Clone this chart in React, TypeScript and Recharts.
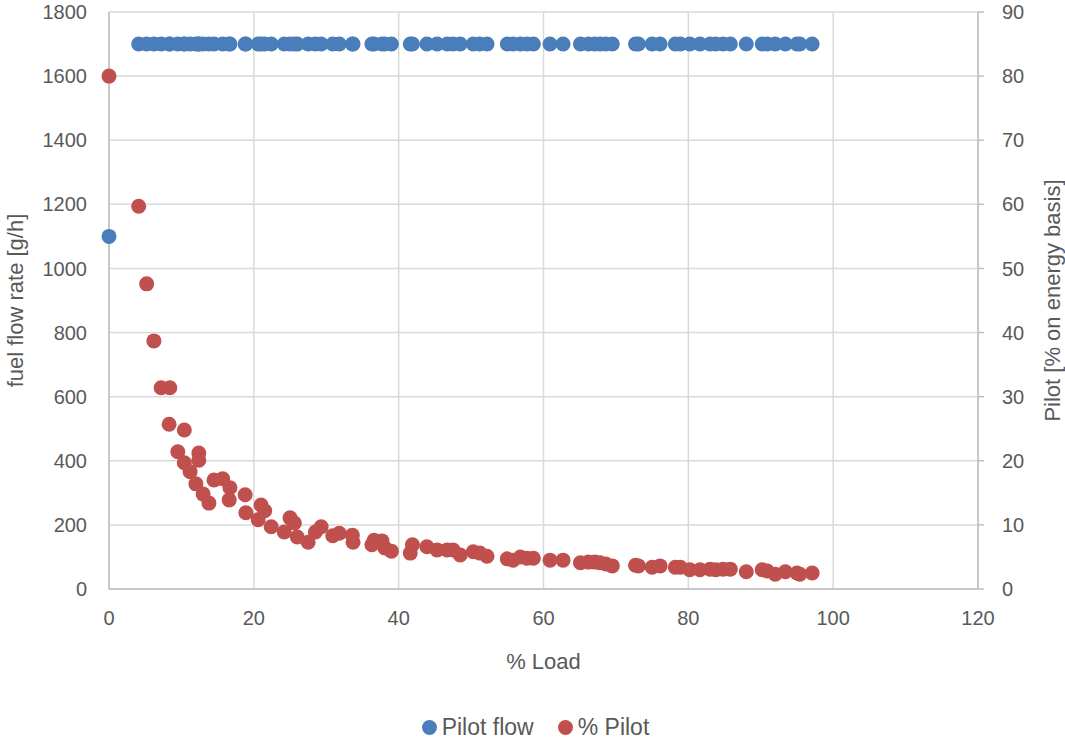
import React from "react";
import { ScatterChart, Scatter, XAxis, YAxis, CartesianGrid, Legend } from "recharts";

// % Load for every sample (shared by both series)
const loadPct = [
  0, 4.1, 5.2, 6.2, 7.2, 8.3, 8.4, 9.5, 10.4, 10.4, 11.2, 12.0, 12.4, 12.4, 13.0, 13.8, 14.5,
  15.7, 16.6, 16.7, 18.8, 18.9, 20.6, 21.0, 21.5, 22.4, 24.2, 25.0, 25.6, 26.0, 27.5, 28.5,
  29.3, 30.9, 31.8, 33.6, 33.7, 36.3, 36.6, 37.7, 38.1, 39.0, 41.6, 41.9, 43.9, 45.3, 46.7,
  47.5, 48.5, 50.3, 51.2, 52.2, 55.0, 55.8, 56.8, 57.7, 58.6, 60.9, 62.7, 65.1, 66.2, 67.1,
  67.8, 68.6, 69.5, 72.7, 73.1, 75.0, 76.1, 78.2, 78.9, 80.2, 81.6, 83.0, 83.8, 84.8, 85.8,
  88.0, 90.2, 90.9, 92.0, 93.4, 95.0, 95.4, 97.1,
];

// pilot fuel flow [g/h]
const pilotFlow = [
  1100, 1700, 1700, 1700, 1700, 1700, 1700, 1700, 1700, 1700, 1700, 1700, 1700, 1700, 1700, 1700, 1700,
  1700, 1700, 1700, 1700, 1700, 1700, 1700, 1700, 1700, 1700, 1700, 1700, 1700, 1700, 1700,
  1700, 1700, 1700, 1700, 1700, 1700, 1700, 1700, 1700, 1700, 1700, 1700, 1700, 1700, 1700,
  1700, 1700, 1700, 1700, 1700, 1700, 1700, 1700, 1700, 1700, 1700, 1700, 1700, 1700, 1700,
  1700, 1700, 1700, 1700, 1700, 1700, 1700, 1700, 1700, 1700, 1700, 1700, 1700, 1700, 1700,
  1700, 1700, 1700, 1700, 1700, 1700, 1700, 1700,
];

// pilot share [% on energy basis]
const pilotShare = [
  80, 59.7, 47.6, 38.7, 31.4, 25.7, 31.4, 21.4, 24.8, 19.7, 18.3, 16.4, 21.2, 20.1, 14.8, 13.4, 17.0,
  17.2, 13.9, 15.8, 14.7, 11.9, 10.8, 13.1, 12.2, 9.7, 8.9, 11.1, 10.3, 8.1, 7.3, 8.9,
  9.7, 8.3, 8.7, 8.4, 7.3, 6.9, 7.6, 7.5, 6.4, 5.9, 5.6, 6.9, 6.6, 6.1, 6.1,
  6.1, 5.3, 5.8, 5.6, 5.1, 4.7, 4.5, 5.0, 4.8, 4.8, 4.5, 4.5, 4.1, 4.2, 4.2,
  4.1, 3.9, 3.6, 3.7, 3.6, 3.4, 3.6, 3.4, 3.4, 3.0, 3.0, 3.1, 3.0, 3.1, 3.1,
  2.7, 3.0, 2.8, 2.3, 2.7, 2.5, 2.3, 2.5,
];

const xTicks = [0, 20, 40, 60, 80, 100, 120];
const leftTicks = [0, 200, 400, 600, 800, 1000, 1200, 1400, 1600, 1800];
const rightTicks = [0, 10, 20, 30, 40, 50, 60, 70, 80, 90];

const BLUE = "#4a7ebb";
const RED = "#c0504d";
const TEXT = "#595959";
const FONT = "'Liberation Sans', Arial, sans-serif";

const flowData = loadPct.map((x, i) => ({ load: x, flow: pilotFlow[i] }));
const shareData = loadPct.map((x, i) => ({ load: x, share: pilotShare[i] }));

const dot = (color: string) => (props: any) =>
  <circle cx={props.cx} cy={props.cy} r={7.5} fill={color} />;

const tickStyle = { fill: TEXT, fontSize: 20, fontFamily: FONT };

const LegendBox = () => (
  <div
    style={{
      height: 63,
      display: "flex",
      alignItems: "flex-end",
      justifyContent: "center",
      fontFamily: FONT,
      fontSize: 23,
      color: TEXT,
      paddingLeft: 6,
      boxSizing: "border-box",
    }}
  >
    <div style={{ display: "flex", alignItems: "center", marginBottom: 1 }}>
      <span style={{ width: 15, height: 15, borderRadius: 8, background: BLUE, marginRight: 5 }} />
      <span style={{ marginRight: 24 }}>Pilot flow</span>
      <span style={{ width: 15, height: 15, borderRadius: 8, background: RED, marginRight: 5 }} />
      <span>% Pilot</span>
    </div>
  </div>
);

export default function App() {
  return (
    <div style={{ position: "absolute", left: 0, top: 0, background: "#fff" }}>
      <ScatterChart width={1065} height={742} margin={{ top: 12, right: 0, bottom: 0, left: 0 }}>
        <CartesianGrid stroke="#d9d9d9" strokeWidth={1.5} yAxisId="left" />
        <XAxis
          type="number"
          dataKey="load"
          domain={[0, 120]}
          ticks={xTicks}
          height={90}
          tickLine={false}
          tickMargin={16}
          axisLine={{ stroke: "#bfbfbf", strokeWidth: 1.5 }}
          tick={tickStyle}
          label={{ value: "% Load", position: "insideBottom", offset: 10, fill: TEXT, fontSize: 22, fontFamily: FONT }}
        />
        <YAxis
          yAxisId="left"
          type="number"
          dataKey="flow"
          domain={[0, 1800]}
          ticks={leftTicks}
          width={109}
          tickLine={false}
          tickMargin={16}
          axisLine={{ stroke: "#bfbfbf", strokeWidth: 1.5 }}
          tick={tickStyle}
          label={{
            value: "fuel flow rate [g/h]",
            angle: -90,
            position: "insideLeft",
            offset: 15,
            style: { textAnchor: "middle" },
            fill: TEXT,
            fontSize: 22,
            fontFamily: FONT,
          }}
        />
        <YAxis
          yAxisId="right"
          orientation="right"
          type="number"
          dataKey="share"
          domain={[0, 90]}
          ticks={rightTicks}
          width={87}
          tickSize={6}
          tickMargin={18}
          tickLine={{ stroke: "#bfbfbf", strokeWidth: 1.5 }}
          axisLine={{ stroke: "#bfbfbf", strokeWidth: 1.5 }}
          tick={tickStyle}
          label={{
            value: "Pilot [% on energy basis]",
            angle: -90,
            position: "insideRight",
            offset: 13,
            style: { textAnchor: "middle" },
            fill: TEXT,
            fontSize: 22,
            fontFamily: FONT,
          }}
        />
        <Legend verticalAlign="bottom" content={<LegendBox />} />
        <Scatter
          name="Pilot flow"
          yAxisId="left"
          data={flowData}
          fill={BLUE}
          shape={dot(BLUE)}
          isAnimationActive={false}
        />
        <Scatter
          name="% Pilot"
          yAxisId="right"
          data={shareData}
          fill={RED}
          shape={dot(RED)}
          isAnimationActive={false}
        />
      </ScatterChart>
    </div>
  );
}
